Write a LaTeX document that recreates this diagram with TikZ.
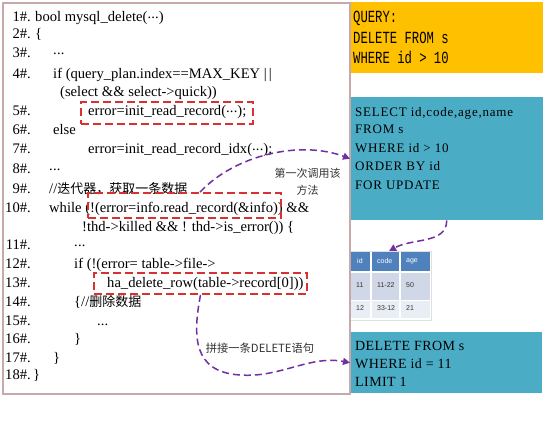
\documentclass[tikz,border=0pt]{standalone}
\usepackage{fontspec}
\setmainfont{Liberation Serif}
\newfontfamily\cjk{Noto Sans CJK SC}
\newfontfamily\sqlmono[FakeStretch=0.72]{Liberation Mono}
\newfontfamily\sqlserif[LetterSpace=6]{Liberation Serif}
\newfontfamily\sqlserifb[LetterSpace=3]{Liberation Serif}
\newfontfamily\tabfont{Liberation Sans}
\usetikzlibrary{arrows.meta,calc}
\definecolor{framecol}{HTML}{C8A8A8}
\definecolor{qyellow}{HTML}{FFC000}
\definecolor{qblue}{HTML}{4BACC6}
\definecolor{redbox}{HTML}{D93030}
\definecolor{arrowpurple}{HTML}{7030A0}
\definecolor{thead}{HTML}{4F81BD}
\definecolor{trowa}{HTML}{D0D8E8}
\definecolor{trowb}{HTML}{E9EDF4}
\newcommand\mdots{\raisebox{3pt}{.\kern0.2pt.\kern0.2pt.}}
\begin{document}
\begin{tikzpicture}[x=1pt,y=-1pt,
  code/.style={anchor=base west, inner sep=0pt, font=\fontsize{14.6}{15}\selectfont},
  num/.style={anchor=base east, inner sep=0pt, font=\fontsize{14.6}{15}\selectfont},
  redframe/.style={draw=redbox, line width=1.8pt, dash pattern=on 8pt off 4pt, inner sep=0pt},
  flow/.style={draw=arrowpurple, line width=1.5pt, dash pattern=on 7pt off 4pt, -{Triangle[length=7pt,width=7pt]}},
  sqlbox/.style={anchor=north west, inner sep=0pt},
  yline/.style={anchor=base west, inner sep=0pt, font=\sqlmono\fontsize{17}{17}\selectfont},
  bline/.style={anchor=base west, inner sep=0pt, font=\sqlserif\fontsize{13}{13}\selectfont},
  dline/.style={anchor=base west, inner sep=0pt, font=\sqlserifb\fontsize{14}{14}\selectfont},
  thtext/.style={anchor=west, inner sep=0pt, text=white, font=\tabfont\fontsize{7}{7}\selectfont},
  tdtext/.style={anchor=west, inner sep=0pt, text=black!80, font=\tabfont\fontsize{7}{7}\selectfont},
  note/.style={text=black!80, inner sep=0pt, align=center}
]
\useasboundingbox (0,0) rectangle (546,426);
\fill[white] (0,0) rectangle (546,426);

% right boxes
\node[sqlbox, fill=qyellow, minimum width=193, minimum height=71] (q) at (350,2) {};
\node[sqlbox, fill=qblue, minimum width=193, minimum height=123] (s) at (350,97) {};
\node[sqlbox, fill=qblue, minimum width=192, minimum height=61] (d) at (350,332) {};

\node[yline] (q1) at (353,22) {QUERY:};
\node[yline] (q2) at (353,43) {DELETE FROM s};
\node[yline] (q3) at (353,63) {WHERE id > 10};

\node[bline] (s1) at (355,116) {SELECT id,code,age,name};
\node[bline] (s2) at (355,133) {FROM s};
\node[bline] (s3) at (355,152) {WHERE id > 10};
\node[bline] (s4) at (355,170) {ORDER BY id};
\node[bline] (s5) at (355,189) {FOR UPDATE};

\node[dline] (d1) at (355,350) {DELETE FROM s};
\node[dline] (d2) at (355,368) {WHERE id = 11};
\node[dline] (d3) at (355,386) {LIMIT 1};

% table
\node[sqlbox, minimum width=81, minimum height=69, draw=black!12, line width=1.2pt, fill=white] (t) at (350,251) {};
\fill[thead] (350,252) rectangle (430,271);
\fill[trowa] (350,273) rectangle (430,300);
\fill[trowb] (350,301) rectangle (430,318);
\draw[white, line width=1.5pt] (371,252) -- (371,318) (400,252) -- (400,318);
\node[thtext] (h1) at (357,261) {id};
\node[thtext] (h2) at (377,261) {code};
\node[thtext] (h3) at (406,261) {age};
\node[tdtext] (a1) at (356,285) {11};
\node[tdtext] (a2) at (377,285) {11-22};
\node[tdtext] (a3) at (406,285) {50};
\node[tdtext] (b1) at (356,308) {12};
\node[tdtext] (b2) at (377,308) {33-12};
\node[tdtext] (b3) at (406,308) {21};

% code frame
\node[sqlbox, draw=framecol, line width=1.5pt, minimum width=347, minimum height=391] (frame) at (2,2) {};

% line numbers
\node[num] (n1) at (31,21) {1\#.};
\node[num] (n2) at (31,38) {2\#.};
\node[num] (n3) at (31,57) {3\#.};
\node[num] (n4) at (31,78) {4\#.};
\node[num] (n5) at (31,115) {5\#.};
\node[num] (n6) at (31,134) {6\#.};
\node[num] (n7) at (31,153) {7\#.};
\node[num] (n8) at (31,173) {8\#.};
\node[num] (n9) at (31,193) {9\#.};
\node[num] (n10) at (31,212) {10\#.};
\node[num] (n11) at (31,249) {11\#.};
\node[num] (n12) at (31,268) {12\#.};
\node[num] (n13) at (31,287) {13\#.};
\node[num] (n14) at (31,306) {14\#.};
\node[num] (n15) at (31,325) {15\#.};
\node[num] (n16) at (31,343) {16\#.};
\node[num] (n17) at (31,362) {17\#.};
\node[num] (n18) at (31,379) {18\#.};

% code
\node[code] (c1) at (35,21) {bool mysql\_delete(\mdots)};
\node[code] (c2) at (35,38) {\{};
\node[code] (c3) at (53,57) {\mdots};
\node[code] (c4) at (53,78) {if (query\_plan.index==MAX\_KEY |\kern2pt|};
\node[code] (c4b) at (60,96) {(select \&\& select->quick))};
\node[code] (c5) at (88,115) {error=init\_read\_record(\mdots);};
\node[code] (c6) at (53,134) {else};
\node[code] (c7) at (88,153) {error=init\_read\_record\_idx(\mdots);};
\node[code] (c8) at (49,173) {\mdots};
\node[code] (c9) at (49,193) {//{\cjk\fontsize{13}{13}\selectfont 迭代器，获取一条数据}};
\node[code] (c10) at (49,212) {while (!(error=info.read\_record(\&info)) \&\&};
\node[code] (c10b) at (82,231) {!thd->killed \&\& ! thd->is\_error()) \{};
\node[code] (c11) at (74,249) {\mdots};
\node[code] (c12) at (74,268) {if (!(error= table->file->};
\node[code] (c13) at (107,287) {ha\_delete\_row(table->record[0]))};
\node[code] (c14) at (74,306) {\{//{\cjk\fontsize{13}{13}\selectfont 删除数据}};
\node[code] (c15) at (97,325) {...};
\node[code] (c16) at (74,343) {\}};
\node[code] (c17) at (53,362) {\}};
\node[code] (c18) at (33,379) {\}};

% red dashed boxes
\node[redframe, minimum width=172, minimum height=22] (r1) at (167,113) {};
\node[redframe, minimum width=193, minimum height=25] (r2) at (184.5,205.5) {};
\node[redframe, minimum width=213, minimum height=21] (r3) at (200.5,283.5) {};

% notes
\node[note, font=\cjk\fontsize{11}{17}\selectfont] (lab1) at (307.5,181.5) {第一次调用该\\方法};
\node[note, font=\cjk\fontsize{11.3}{11.3}\selectfont] (lab2) at (260,348) {拼接一条DELETE语句};

% arrows
\draw[flow] ([xshift=15.5pt]r2.north) .. controls (235,155) and (300,140) .. (s.west);
\draw[flow] (s.south) .. controls (447,244) and (412,238) .. ([xshift=-2pt]t.north);
\draw[flow] (r3.south) .. controls (193,335) and (192,372) .. (240,375)
  .. controls (280,378) and (310,355) .. (d.west);
\end{tikzpicture}
\end{document}
